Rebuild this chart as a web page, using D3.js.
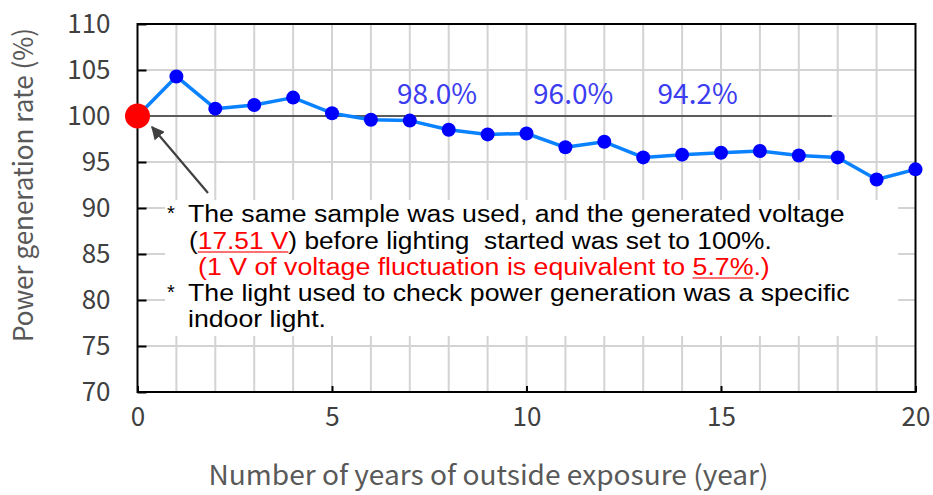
<!DOCTYPE html>
<html>
<head>
<meta charset="utf-8">
<script src="https://cdn.jsdelivr.net/npm/d3@7"></script>
<style>
  body { margin: 0; background: #fff; }
  svg { display: block; }
</style>
</head>
<body>
<script>
// years of outside exposure and the generation rate read for each
const years = [0, 1, 2, 3, 4, 5, 6, 7, 8, 9, 10, 11, 12, 13, 14, 15, 16, 17, 18, 19, 20];
const rates = [100, 104.3, 100.8, 101.2, 102.0, 100.3, 99.6, 99.5, 98.5, 98.0, 98.1, 96.6, 97.2, 95.5, 95.8, 96.0, 96.2, 95.7, 95.5, 93.1, 94.2];

const xTicks = [0, 5, 10, 15, 20];
const yTicks = [70, 75, 80, 85, 90, 95, 100, 105, 110];

// percentage annotations floating above the 100% reference line
const noteLabels = ["98.0%", "96.0%", "94.2%"];
const noteYears = [7.7, 11.2, 14.4];
const noteLevel = 101.3;
const refLine = {from: 0, to: 17.85, value: 100};

const width = 933, height = 495;
const x = d3.scaleLinear([0, 20], [137.5, 915.5]);
const y = d3.scaleLinear([70, 110], [392, 24]);

const axisFont = "'Noto Sans CJK JP', 'Noto Sans', sans-serif";

const svg = d3.select("body").append("svg")
    .attr("width", width)
    .attr("height", height);

// grid
svg.append("g")
    .attr("stroke", "#d3d3d3")
    .attr("stroke-width", 2)
  .selectAll("line")
  .data(years.filter(d => d > 0 && d < 20))
  .join("line")
    .attr("x1", d => x(d)).attr("x2", d => x(d))
    .attr("y1", y(70)).attr("y2", y(110));

svg.append("g")
    .attr("stroke", "#d3d3d3")
    .attr("stroke-width", 2)
  .selectAll("line")
  .data(yTicks.filter(d => d > 70 && d < 110))
  .join("line")
    .attr("x1", x(0)).attr("x2", x(20))
    .attr("y1", d => y(d)).attr("y2", d => y(d));

// white box behind the footnotes
svg.append("rect")
    .attr("x", 165).attr("y", 200)
    .attr("width", 733).attr("height", 136)
    .attr("fill", "#fff");

// axes
const yAxis = svg.append("g")
    .attr("transform", `translate(${x(0)},0)`)
    .call(d3.axisLeft(y).tickValues(yTicks).tickSize(-9).tickPadding(27));
yAxis.select(".domain").remove();
yAxis.selectAll("line").attr("stroke", "#000").attr("stroke-width", 2);
yAxis.selectAll("text")
    .attr("font-family", axisFont)
    .attr("font-size", 26)
    .attr("fill", "#404040");

const xAxis = svg.append("g")
    .attr("transform", `translate(0,${y(70)})`)
    .call(d3.axisBottom(x).tickValues(xTicks).tickSize(-6).tickPadding(16));
xAxis.select(".domain").remove();
xAxis.selectAll("line").attr("stroke", "#000").attr("stroke-width", 2);
xAxis.selectAll("text")
    .attr("font-family", axisFont)
    .attr("font-size", 26)
    .attr("fill", "#404040");

// frame
svg.append("rect")
    .attr("x", x(0)).attr("y", y(110))
    .attr("width", x(20) - x(0)).attr("height", y(70) - y(110))
    .attr("fill", "none")
    .attr("stroke", "#000")
    .attr("stroke-width", 2);

// axis titles
svg.append("text")
    .attr("x", (x(0) + x(20)) / 2 - 38)
    .attr("y", 485)
    .attr("text-anchor", "middle")
    .attr("font-family", axisFont)
    .attr("font-size", 27)
    .attr("fill", "#595959")
    .attr("textLength", 560)
    .attr("lengthAdjust", "spacingAndGlyphs")
    .text("Number of years of outside exposure (year)");

svg.append("text")
    .attr("transform", "translate(33,185) rotate(-90)")
    .attr("text-anchor", "middle")
    .attr("font-family", axisFont)
    .attr("font-size", 27)
    .attr("fill", "#595959")
    .attr("textLength", 314)
    .attr("lengthAdjust", "spacingAndGlyphs")
    .text("Power generation rate (%)");

// 100% reference line
svg.append("line")
    .attr("x1", x(refLine.from)).attr("x2", x(refLine.to))
    .attr("y1", y(refLine.value)).attr("y2", y(refLine.value))
    .attr("stroke", "#333")
    .attr("stroke-width", 1.5);

svg.append("g")
    .attr("font-family", axisFont)
    .attr("font-size", 28)
    .attr("fill", "#3c3cf0")
    .attr("text-anchor", "middle")
  .selectAll("text")
  .data(noteLabels)
  .join("text")
    .attr("x", (d, i) => x(noteYears[i]))
    .attr("y", y(noteLevel))
    .text(d => d);

// series
const line = d3.line()
    .x((d, i) => x(years[i]))
    .y(d => y(d));

svg.append("path")
    .datum(rates)
    .attr("fill", "none")
    .attr("stroke", "#0a82ff")
    .attr("stroke-width", 3.5)
    .attr("stroke-linejoin", "round")
    .attr("d", line);

svg.append("g")
    .attr("fill", "#0000ff")
  .selectAll("circle")
  .data(rates.slice(1))
  .join("circle")
    .attr("cx", (d, i) => x(years[i + 1]))
    .attr("cy", d => y(d))
    .attr("r", 7);

svg.append("circle")
    .attr("cx", x(years[0]))
    .attr("cy", y(rates[0]))
    .attr("r", 12.5)
    .attr("fill", "#ff0000");

// arrow pointing at the starting point
svg.append("defs").append("marker")
    .attr("id", "head")
    .attr("viewBox", "0 0 10 10")
    .attr("refX", 9).attr("refY", 5)
    .attr("markerWidth", 6).attr("markerHeight", 6)
    .attr("markerUnits", "strokeWidth")
    .attr("orient", "auto")
  .append("path")
    .attr("d", "M0,0L10,5L0,10z")
    .attr("fill", "#404040");

svg.append("line")
    .attr("x1", 208).attr("y1", 193)
    .attr("x2", 152).attr("y2", 127)
    .attr("stroke", "#404040")
    .attr("stroke-width", 2.2)
    .attr("marker-end", "url(#head)");

// footnotes
const noteFont = "'Liberation Sans', Arial, sans-serif";
const notes = [
  {y: 222, x: 188, w: 657, star: true, parts: [["The same sample was used, and the generated voltage", "#000", false]]},
  {y: 249, x: 189, w: 583, parts: [["(", "#000", false], ["17.51 V", "#ff0000", true], [") before lighting  started was set to 100%.", "#000", false]]},
  {y: 275, x: 198, w: 572, parts: [["(1 V of voltage fluctuation is equivalent to ", "#ff0000", false], ["5.7%", "#ff0000", true], [".)", "#ff0000", false]]},
  {y: 301, x: 188, w: 662, star: true, parts: [["The light used to check power generation was a specific", "#000", false]]},
  {y: 327, x: 188, w: null, parts: [["indoor light.", "#000", false]]}
];

const noteG = svg.append("g")
    .attr("font-family", noteFont)
    .attr("font-size", 23);

let lastScale = 1;
notes.forEach(n => {
  if (n.star) {
    noteG.append("text")
      .attr("x", 171).attr("y", n.y - 2)
      .attr("text-anchor", "middle")
      .attr("font-size", 20)
      .text("*");
  }
  const g = noteG.append("g");
  const t = g.append("text").attr("x", 0).attr("y", 0).style("white-space", "pre");
  n.parts.forEach(p => {
    t.append("tspan")
      .attr("fill", p[1])
      .text(p[0]);
  });
  const natural = t.node().getComputedTextLength();
  const s = n.w ? n.w / natural : lastScale;
  lastScale = s;
  g.attr("transform", `translate(${n.x},${n.y}) scale(${s},1)`);
  // thin red underline beneath the highlighted values
  t.selectAll("tspan").each(function(d, i) {
    if (!n.parts[i][2]) return;
    const start = t.node().getStartPositionOfChar(
      n.parts.slice(0, i).reduce((a, p) => a + p[0].length, 0));
    const len = this.getComputedTextLength();
    g.append("line")
      .attr("x1", start.x).attr("x2", start.x + len)
      .attr("y1", 3).attr("y2", 3)
      .attr("stroke", "#ff4040")
      .attr("stroke-width", 1.5);
  });
});
</script>
</body>
</html>
